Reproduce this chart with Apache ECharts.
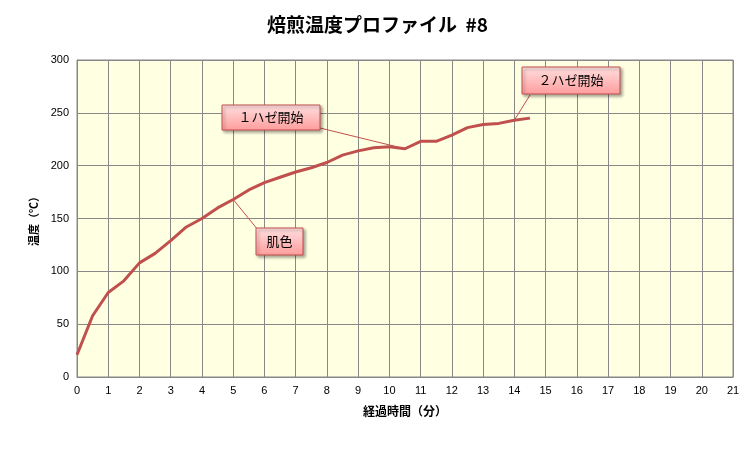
<!DOCTYPE html><html><head><meta charset="utf-8">
<script src="https://cdn.jsdelivr.net/npm/echarts@6/dist/echarts.min.js"></script>
<style>body{margin:0}#c{width:755px;height:451px}</style></head><body><div id="c"></div>
<script>
const minutes=[0,0.5,1,1.5,2,2.5,3,3.5,4,4.5,5,5.5,6,6.5,7,7.5,8,8.5,9,9.5,10,10.5,11,11.5,12,12.5,13,13.5,14,14.5];
const temps=[21,58,80,91,108,117,129,142,150,160,168,177,184,189,194,198,203,210,214,217,218,216,223,223,229,236,239,240,243,245];
const notes=[{t:'１ハゼ開始',x:10.5,y:216},{t:'２ハゼ開始',x:14,y:243},{t:'肌色',x:5,y:168}];
const chart=echarts.init(document.getElementById('c'));
const F='"Noto Sans CJK JP"';
const boxes=[[222,105,98,25],[522,67,98,27],[256,228,47,27]];
const anchors=[[320,128],[530,95],[258,230]];
chart.setOption({
 title:{text:'焙煎温度プロファイル  #8',left:'center',top:10,textStyle:{fontFamily:F,fontSize:19,fontWeight:'bold',color:'#000'}},
 grid:{left:77,right:22,top:60,bottom:74,show:true,backgroundColor:'#FFFFE1',borderColor:'#888',borderWidth:1},
 xAxis:{type:'value',min:0,max:21,interval:1,name:'経過時間（分）',nameLocation:'middle',nameGap:28,
  nameTextStyle:{fontFamily:F,fontSize:12,fontWeight:'bold',color:'#000'},
  axisLine:{lineStyle:{color:'#888'}},axisTick:{show:false},axisLabel:{color:'#000',fontSize:11},
  splitLine:{lineStyle:{color:'#888'}}},
 yAxis:{type:'value',min:0,max:300,interval:50,name:'温度（℃）',nameLocation:'middle',nameGap:38,
  nameTextStyle:{fontFamily:F,fontSize:11,fontWeight:'bold',color:'#000'},
  axisLine:{show:true,lineStyle:{color:'#888'}},axisTick:{show:false},axisLabel:{color:'#000',fontSize:11},
  splitLine:{lineStyle:{color:'#888'}}},
 series:[{type:'line',data:minutes.map((m,i)=>[m,temps[i]]),showSymbol:false,lineStyle:{color:'#C0504D',width:3}}],
 animation:false
});
const g=[];
notes.forEach((n,i)=>{
 const p=chart.convertToPixel({gridIndex:0},[n.x,n.y]);const b=boxes[i];const a=anchors[i];
 g.push({type:'line',shape:{x1:a[0],y1:a[1],x2:p[0],y2:p[1]},style:{stroke:'#C0504D',lineWidth:1},z:100});
 g.push({type:'rect',shape:{x:b[0],y:b[1],width:b[2],height:b[3]},z:101,
  style:{fill:new echarts.graphic.LinearGradient(0,0,0,1,[{offset:0,color:'#FFE0E0'},{offset:1,color:'#FF9C9C'}]),stroke:'#C0504D',lineWidth:1,shadowBlur:3,shadowOffsetX:2,shadowOffsetY:2,shadowColor:'rgba(0,0,0,0.35)'}});
 g.push({type:'text',z:102,style:{x:b[0]+b[2]/2,y:b[1]+b[3]/2,text:n.t,align:'center',verticalAlign:'middle',font:'13px '+F,fill:'#000'}});
});
chart.setOption({graphic:g});
</script></body></html>
